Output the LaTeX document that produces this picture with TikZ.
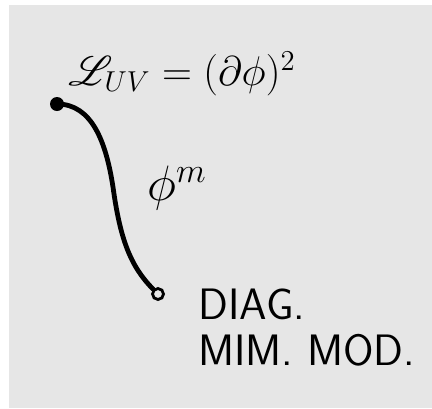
\documentclass[tikz,border=0pt]{standalone}
\usepackage{amsmath}
\usepackage{mathrsfs}
\usepackage{xcolor}
\usepackage{tikz}

\definecolor{boardgray}{HTML}{E6E6E6}

\begin{document}
\begin{tikzpicture}[x=0.5pt,y=-0.5pt,
        flowline/.style={line width=2.4pt,line cap=round},
        enddot/.style={circle,fill=black,inner sep=0pt,minimum size=7pt},
        endring/.style={circle,draw=black,line width=1.4pt,fill=boardgray,inner sep=0pt,minimum size=5.5pt},
        label/.style={inner sep=0pt,font=\fontsize{22}{26}\selectfont}]
            \useasboundingbox (0,0) rectangle (432,408);
            \fill[boardgray] (9,5) rectangle (432,408);

            \node[label] (uv) at (182,74) {$\mathscr{L}_{UV}=(\partial\phi)^2$};
            \node[label,font=\fontsize{27}{30}\selectfont] (flow) at (177,188) {$\phi^m$};
            \node[label,anchor=north west,align=left,font=\fontsize{22}{23}\selectfont\sffamily] (mod) at (198,289) {DIAG.\\MIM. MOD.};

            \node[enddot] (top) at (57,104) {};
            \node[endring] (bot) at (158,294) {};
            \draw[flowline] (top.center) .. controls (92,104) and (106,142) .. (113,187)
                .. controls (120,238) and (130,266) .. (bot);
         \end{tikzpicture}
\end{document}
